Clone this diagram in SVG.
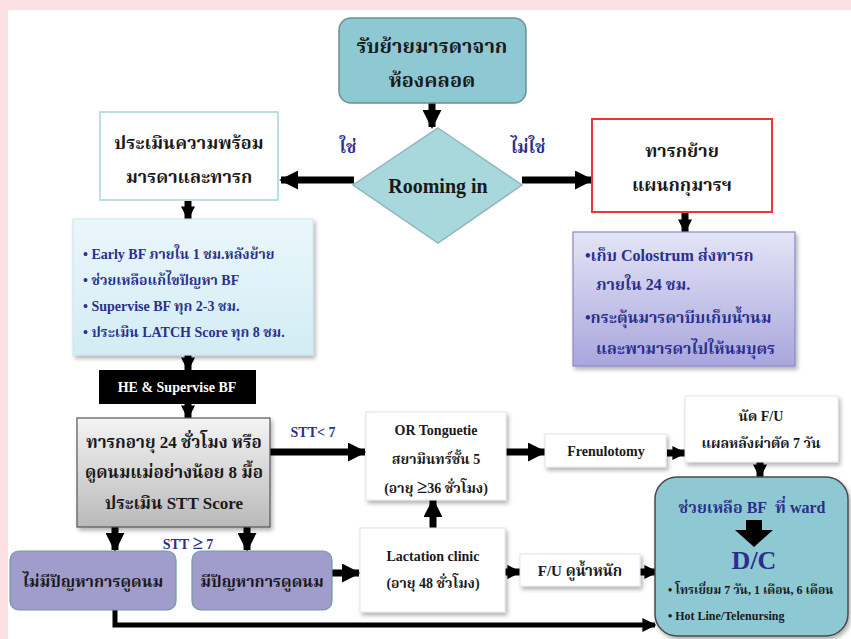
<svg xmlns="http://www.w3.org/2000/svg" width="851" height="639" viewBox="0 0 851 639">
<defs>
<style>
.t{font-family:"Liberation Serif","Noto Serif Thai","Noto Sans Thai",serif;font-weight:bold;text-anchor:middle;fill:#1a1a1a}
.th{font-size:18px}
.sm{font-size:14px}
.bl{fill:#2b2f8c}
.lt{text-anchor:start}
.ar{fill:none;stroke:#000;stroke-width:7}
.wbox{fill:#fff;stroke:#e4e4e4;stroke-width:1}
</style>
<linearGradient id="gGray" x1="0" y1="0" x2="0" y2="1"><stop offset="0" stop-color="#f4f4f4"/><stop offset="1" stop-color="#b9b9b9"/></linearGradient>
<linearGradient id="gPur" x1="0" y1="0" x2="0" y2="1"><stop offset="0" stop-color="#e4e4f6"/><stop offset="1" stop-color="#a8a6dc"/></linearGradient>
<linearGradient id="gBlue" x1="0" y1="0" x2="0" y2="1"><stop offset="0" stop-color="#eaf7fb"/><stop offset="1" stop-color="#d2ecf4"/></linearGradient>
<filter id="sh" x="-10%" y="-10%" width="125%" height="130%"><feDropShadow dx="2" dy="3" stdDeviation="2" flood-color="#000" flood-opacity="0.3"/></filter>
<marker id="ah" markerUnits="userSpaceOnUse" viewBox="0 0 10 10" refX="9" refY="5" markerWidth="19" markerHeight="19" orient="auto"><path d="M0,0 L10,5 L0,10 z" fill="#000"/></marker>
<marker id="ahs" markerUnits="userSpaceOnUse" viewBox="0 0 10 10" refX="9" refY="5" markerWidth="14" markerHeight="14" orient="auto"><path d="M0,0 L10,5 L0,10 z" fill="#000"/></marker>
</defs>
<rect x="0" y="0" width="851" height="639" fill="#fde0e4"/>
<rect x="8" y="10" width="843" height="629" fill="#fff"/>

<g id="connectors">
<line class="ar" x1="432" y1="103" x2="432" y2="127" marker-end="url(#ah)"/>
<line class="ar" x1="354" y1="180" x2="281" y2="180" marker-end="url(#ah)"/>
<line class="ar" x1="522" y1="180" x2="592" y2="180" marker-end="url(#ah)"/>
<line class="ar" x1="685" y1="212" x2="685" y2="232" marker-end="url(#ahs)"/>
<line class="ar" x1="188" y1="201" x2="188" y2="219" marker-end="url(#ahs)"/>
<line class="ar" x1="188" y1="355" x2="188" y2="370" marker-end="url(#ahs)"/>
<line class="ar" x1="188" y1="404" x2="188" y2="418" marker-end="url(#ahs)"/>
<line class="ar" x1="270" y1="452" x2="365" y2="452" marker-end="url(#ah)"/>
<line class="ar" x1="506" y1="452" x2="545" y2="452" marker-end="url(#ah)"/>
<line class="ar" x1="667" y1="453" x2="685" y2="453" marker-end="url(#ahs)"/>
<line class="ar" x1="760" y1="462" x2="760" y2="477" marker-end="url(#ahs)"/>
<line class="ar" x1="115" y1="527" x2="115" y2="550" marker-end="url(#ah)"/>
<line class="ar" x1="247" y1="527" x2="247" y2="550" marker-end="url(#ah)"/>
<line class="ar" x1="332" y1="573" x2="359" y2="573" marker-end="url(#ah)"/>
<line class="ar" x1="433" y1="528" x2="433" y2="500" marker-end="url(#ah)"/>
<line class="ar" x1="505" y1="572" x2="520" y2="572" marker-end="url(#ahs)"/>
<line class="ar" x1="640" y1="572" x2="657" y2="572" marker-end="url(#ahs)"/>
<polyline class="ar" style="stroke-width:5" points="115,610 115,625 655,625" marker-end="url(#ahs)"/>
<text class="t bl" x="348" y="153" style="font-size:17px">ใช่</text>
<text class="t bl" x="528" y="153" style="font-size:17px">ไม่ใช่</text>
<text class="t bl sm" x="313" y="437">STT&lt; 7</text>
<text class="t bl sm" x="188" y="549">STT <tspan style="font-size:19px">≥</tspan> 7</text>
</g>

<g id="n-start">
<rect x="339" y="18" width="187" height="85" rx="12" fill="#8ec8d2" stroke="#6c8f98" stroke-width="1.5"/>
<text class="t" x="432" y="53" style="font-size:20px">รับย้ายมารดาจาก</text>
<text class="t" x="432" y="87" style="font-size:20px">ห้องคลอด</text>
</g>

<g id="n-rooming">
<polygon points="438,128 522,185 438,243 353,185" fill="#a9d8dc" stroke="#8fb6bc" stroke-width="1.5"/>
<text class="t" x="438" y="193" style="font-size:20px">Rooming in</text>
</g>

<g id="n-assess">
<rect x="100" y="112" width="178" height="88" fill="#fff" stroke="#a6d4dc" stroke-width="1.5"/>
<text class="t th" x="189" y="149">ประเมินความพร้อม</text>
<text class="t th" x="189" y="183">มารดาและทารก</text>
</g>

<g id="n-transfer">
<rect x="592" y="119" width="180" height="93" fill="#fff" stroke="#ee3535" stroke-width="2"/>
<text class="t th" x="682" y="157">ทารกย้าย</text>
<text class="t th" x="682" y="191">แผนกกุมารฯ</text>
</g>

<g id="n-colostrum">
<rect x="573" y="232" width="222" height="134" fill="url(#gPur)" stroke="#8a88c8" stroke-width="1.2" filter="url(#sh)"/>
<text class="t bl lt" x="585" y="261" style="font-size:16px">•เก็บ Colostrum ส่งทารก</text>
<text class="t bl lt" x="596" y="290" style="font-size:16px">ภายใน 24 ชม.</text>
<text class="t bl lt" x="585" y="323" style="font-size:16px">•กระตุ้นมารดาบีบเก็บน้ำนม</text>
<text class="t bl lt" x="596" y="354" style="font-size:16px">และพามารดาไปให้นมบุตร</text>
</g>

<g id="n-early">
<rect x="73" y="219" width="240" height="136" fill="url(#gBlue)" stroke="#cde4ea" stroke-width="1" filter="url(#sh)"/>
<text class="t bl lt" x="83" y="259" style="font-size:14px">• Early BF ภายใน 1 ชม.หลังย้าย</text>
<text class="t bl lt" x="83" y="285" style="font-size:14px">• ช่วยเหลือแก้ไขปัญหา BF</text>
<text class="t bl lt" x="83" y="311" style="font-size:14px">• Supervise BF ทุก 2-3 ชม.</text>
<text class="t bl lt" x="83" y="337" style="font-size:14px">• ประเมิน LATCH Score ทุก 8 ชม.</text>
</g>

<g id="n-he">
<rect x="99" y="370" width="157" height="34" fill="#000"/>
<text class="t sm" x="177" y="392" style="fill:#fff">HE &amp; Supervise BF</text>
</g>

<g id="n-stt">
<rect x="77" y="418" width="193" height="109" fill="url(#gGray)" stroke="#555" stroke-width="1.2" filter="url(#sh)"/>
<text class="t" x="174" y="448" style="font-size:17px">ทารกอายุ 24 ชั่วโมง หรือ</text>
<text class="t" x="174" y="478" style="font-size:17px">ดูดนมแม่อย่างน้อย 8 มื้อ</text>
<text class="t" x="174" y="509" style="font-size:17px">ประเมิน STT Score</text>
</g>

<g id="n-or">
<rect x="366" y="412" width="140" height="88" class="wbox" filter="url(#sh)"/>
<text class="t sm" x="436" y="435">OR Tonguetie</text>
<text class="t sm" x="436" y="464">สยามินทร์ชั้น 5</text>
<text class="t sm" x="436" y="493">(อายุ <tspan style="font-size:19px">≥</tspan>36 ชั่วโมง)</text>
</g>

<g id="n-frenulotomy">
<rect x="545" y="434" width="121" height="33" class="wbox" filter="url(#sh)"/>
<text class="t sm" x="606" y="456">Frenulotomy</text>
</g>

<g id="n-fu-wound">
<rect x="685" y="396" width="153" height="66" class="wbox" filter="url(#sh)"/>
<text class="t sm" x="761" y="421">นัด F/U</text>
<text class="t sm" x="761" y="448">แผลหลังผ่าตัด 7 วัน</text>
</g>

<g id="n-dc">
<rect x="655" y="477" width="193" height="159" rx="22" fill="#8ec8d2" stroke="#4a4a4a" stroke-width="1.5" filter="url(#sh)"/>
<text class="t bl" x="752" y="513" style="font-size:16px">ช่วยเหลือ BF&#160; ที่ ward</text>
<polygon points="746,520 762,520 762,530 773,530 754,547 735,530 746,530" fill="#000"/>
<text class="t bl" x="754" y="569" style="font-size:26px">D/C</text>
<text class="t lt" x="668" y="594" style="font-size:12px">• โทรเยี่ยม 7 วัน, 1 เดือน, 6 เดือน</text>
<text class="t lt" x="668" y="620" style="font-size:12px">• Hot Line/Telenursing</text>
</g>

<g id="n-noproblem">
<rect x="10" y="551" width="166" height="59" rx="9" fill="#a09ccc" stroke="#6e9c9c" stroke-width="1.2"/>
<text class="t" x="93" y="587" style="font-size:16px">ไม่มีปัญหาการดูดนม</text>
</g>

<g id="n-problem">
<rect x="192" y="551" width="140" height="59" rx="9" fill="#a09ccc" stroke="#6e9c9c" stroke-width="1.2"/>
<text class="t" x="262" y="587" style="font-size:16px">มีปัญหาการดูดนม</text>
</g>

<g id="n-lactation">
<rect x="360" y="528" width="145" height="84" class="wbox" filter="url(#sh)"/>
<text class="t sm" x="433" y="561">Lactation clinic</text>
<text class="t sm" x="433" y="588">(อายุ 48 ชั่วโมง)</text>
</g>

<g id="n-fu-weight">
<rect x="520" y="554" width="120" height="32" class="wbox" filter="url(#sh)"/>
<text class="t" x="580" y="576" style="font-size:15px">F/U ดูน้ำหนัก</text>
</g>
</svg>
